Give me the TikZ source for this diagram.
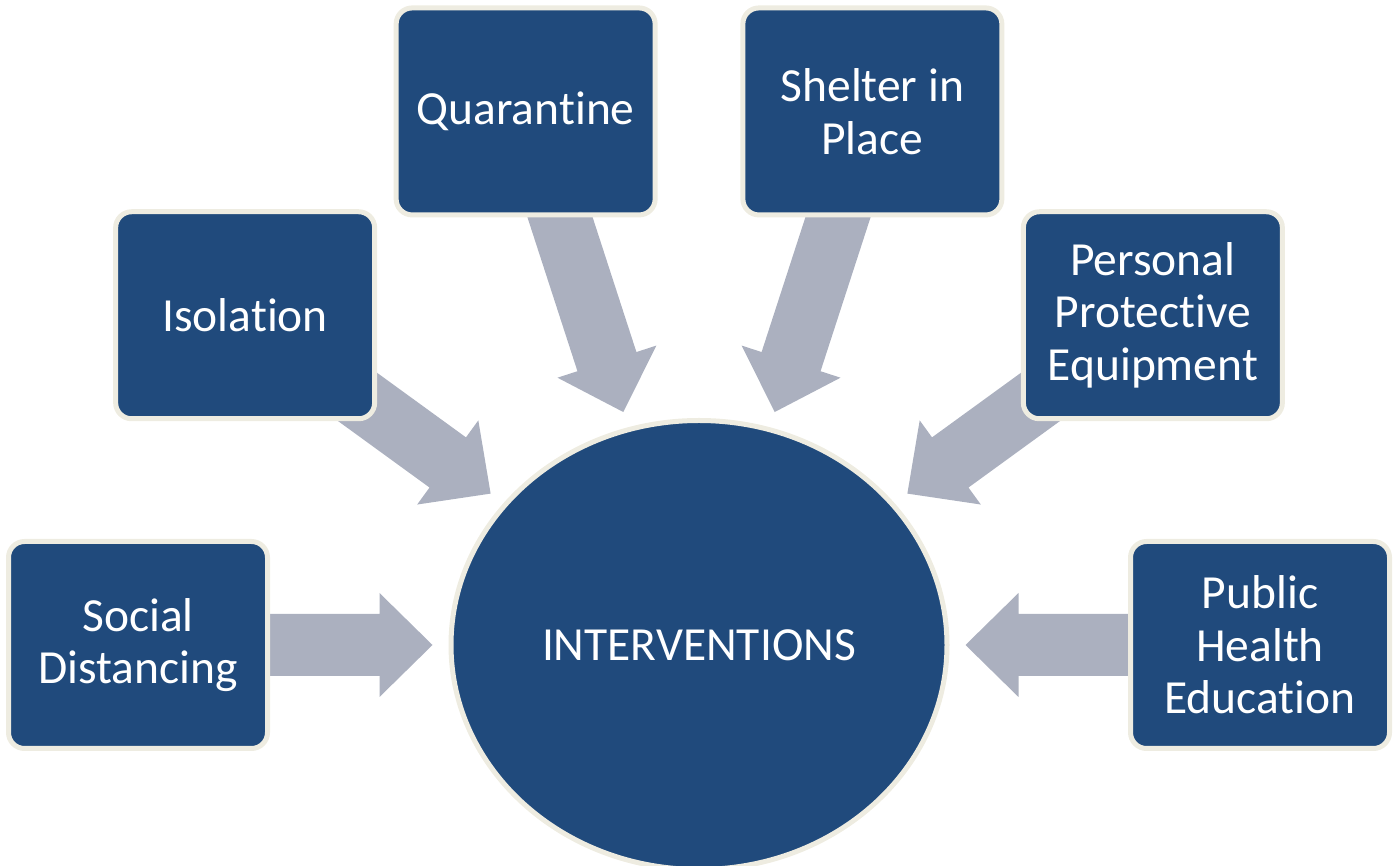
\documentclass[tikz,border=0pt]{standalone}
\usepackage{fontspec}
\setmainfont[Ligatures={NoCommon}]{Carlito}
\usetikzlibrary{shapes.geometric,calc}
\pgfdeclarelayer{background}
\pgfsetlayers{background,main}
\definecolor{boxblue}{RGB}{32,74,124}
\definecolor{cream}{RGB}{238,236,225}
\definecolor{arrowgray}{RGB}{171,176,191}
\tikzset{
  itembox/.style={draw=cream, line width=5pt, fill=boxblue, rounded corners=16pt,
    minimum width=259pt, minimum height=207pt, inner sep=0pt, text=white,
    align=center, font=\fontsize{47.5}{52.5}\selectfont},
  hub/.style={ellipse, draw=cream, line width=5pt, fill=boxblue,
    minimum width=496pt, minimum height=449pt, inner sep=0pt, text=white,
    font=\fontsize{47.5}{52.5}\selectfont},
  arrowfill/.style={fill=arrowgray}
}
\newcommand\blockarr[2]{%
  \coordinate (t) at ($(E.#1)!-16pt!(E.center)$);
  \coordinate (h) at ($(t)!53pt!(#2.center)$);
  \fill[arrowfill] (t) -- ($(h)!52pt!90:(t)$) -- ($(h)!31pt!90:(t)$)
    -- ($(#2.center)!31pt!90:(t)$) -- ($(#2.center)!31pt!-90:(t)$)
    -- ($(h)!31pt!-90:(t)$) -- ($(h)!52pt!-90:(t)$) -- cycle;
}
\begin{document}
\begin{tikzpicture}[x=1pt,y=1pt]
\useasboundingbox (0,0) rectangle (1395,865);
\clip (0,0) rectangle (1395,865);
\node[hub] (E) at (699,220) {INTERVENTIONS};
\node[itembox] (S) at ($(E.center)+(180:561)$) {Social\\Distancing};
\node[itembox] (I) at ($(E.center)+(144:561)$) {Isolation};
\node[itembox] (Q) at ($(E.center)+(108:561)$) {Quarantine};
\node[itembox] (H) at ($(E.center)+(72:561)$) {Shelter in\\Place};
\node[itembox] (P) at ($(E.center)+(36:561)$) {Personal\\Protective\\Equipment};
\node[itembox] (U) at ($(E.center)+(0:561)$) {Public\\Health\\Education};
\begin{pgfonlayer}{background}
\blockarr{180}{S}
\blockarr{144}{I}
\blockarr{108}{Q}
\blockarr{72}{H}
\blockarr{36}{P}
\blockarr{0}{U}
\end{pgfonlayer}
\end{tikzpicture}
\end{document}
